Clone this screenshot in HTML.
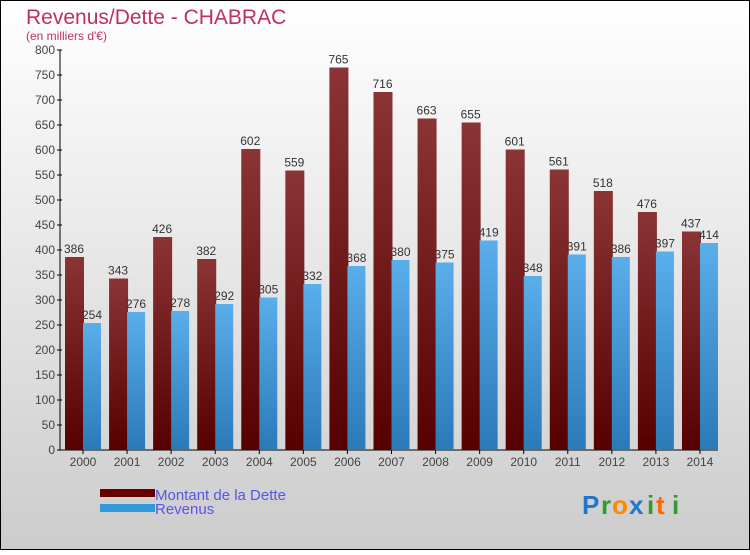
<!DOCTYPE html>
<html><head><meta charset="utf-8"><style>
body{margin:0}
#c{width:750px;height:550px;position:relative;font-family:"Liberation Sans",sans-serif}
</style></head><body>
<div id="c">
<svg width="750" height="550" xmlns="http://www.w3.org/2000/svg">
<defs>
<linearGradient id="bg" x1="0" y1="0" x2="0" y2="1"><stop offset="0" stop-color="#ffffff"/><stop offset="1" stop-color="#cccccc"/></linearGradient>
<linearGradient id="gd" x1="0" y1="0" x2="0" y2="1"><stop offset="0" stop-color="#8a3436"/><stop offset="1" stop-color="#560000"/></linearGradient>
<linearGradient id="gr" x1="0" y1="0" x2="0" y2="1"><stop offset="0" stop-color="#5aaeea"/><stop offset="1" stop-color="#2a7ab8"/></linearGradient>
</defs>
<rect x="0.5" y="0.5" width="749" height="549" fill="url(#bg)" stroke="#000"/>
<text x="26" y="24" font-size="21" fill="#c0305a">Revenus/Dette - CHABRAC</text>
<text x="26" y="40" font-size="12" fill="#c0305a">(en milliers d'€)</text>
<g id="axes"></g>
<g id="bars"></g>
<rect x="100" y="489" width="55" height="8" fill="#660000"/>
<text x="155" y="500" font-size="15" fill="#5555ee">Montant de la Dette</text>
<rect x="100" y="504" width="55" height="8" fill="#3399dd"/>
<text x="155" y="514" font-size="15" fill="#5555ee">Revenus</text>
<g font-size="26" font-weight="bold">
<text x="582" y="514" fill="#2277cc">P</text><text x="601" y="514" fill="#339933">r</text><text x="612" y="514" fill="#ff8800">o</text><text x="629" y="514" fill="#2277cc">x</text><text x="647" y="514" fill="#339933">i</text><text x="656" y="514" fill="#ff6600">t</text><text x="672" y="514" fill="#339933">i</text>
</g>
</svg>
</div>
<script>
const years=["2000","2001","2002","2003","2004","2005","2006","2007","2008","2009","2010","2011","2012","2013","2014"];
const dette=[386,343,426,382,602,559,765,716,663,655,601,561,518,476,437];
const revenus=[254,276,278,292,305,332,368,380,375,419,348,391,386,397,414];
const yTicks=[0,50,100,150,200,250,300,350,400,450,500,550,600,650,700,750,800];
const NS="http://www.w3.org/2000/svg";
const y=v=>450-v*0.5;
const x=i=>83+i*44.07;
function mk(t,a,p){const e=document.createElementNS(NS,t);for(const k in a)e.setAttribute(k,a[k]);p.appendChild(e);return e;}
const ax=document.getElementById('axes'),bg=document.getElementById('bars');
const yl=mk('line',{x1:60,y1:50,x2:60,y2:450,stroke:'#000'},ax);


const xl=mk('line',{x1:60,y1:450,x2:718,y2:450,stroke:'#000'},ax);


yTicks.forEach(v=>{
 mk('line',{x1:57,y1:y(v),x2:62,y2:y(v),stroke:'#000'},ax);
 const t=mk('text',{x:55,y:y(v)+4,'font-size':12,fill:'#444','text-anchor':'end'},ax);t.textContent=v;
 
 
});
years.forEach((yr,i)=>{
 const c=x(i);
 mk('line',{x1:c,y1:450,x2:c,y2:454,stroke:'#000'},ax);
 const t=mk('text',{x:c,y:466,'font-size':12,fill:'#444','text-anchor':'middle'},ax);t.textContent=yr;
 
 
 const b1=mk('rect',{x:c-18,y:y(dette[i]),width:19,height:450-y(dette[i]),fill:'url(#gd)'},bg);
 
 
 const b2=mk('rect',{x:c,y:y(revenus[i]),width:18,height:450-y(revenus[i]),fill:'url(#gr)'},bg);
 
 
 const l1=mk('text',{x:c-9,y:y(dette[i])-4,'font-size':12,fill:'#333','text-anchor':'middle'},bg);l1.textContent=dette[i];
 
 
 const l2=mk('text',{x:c+9,y:y(revenus[i])-4,'font-size':12,fill:'#333','text-anchor':'middle'},bg);l2.textContent=revenus[i];
 
 
});
</script>
</body></html>
